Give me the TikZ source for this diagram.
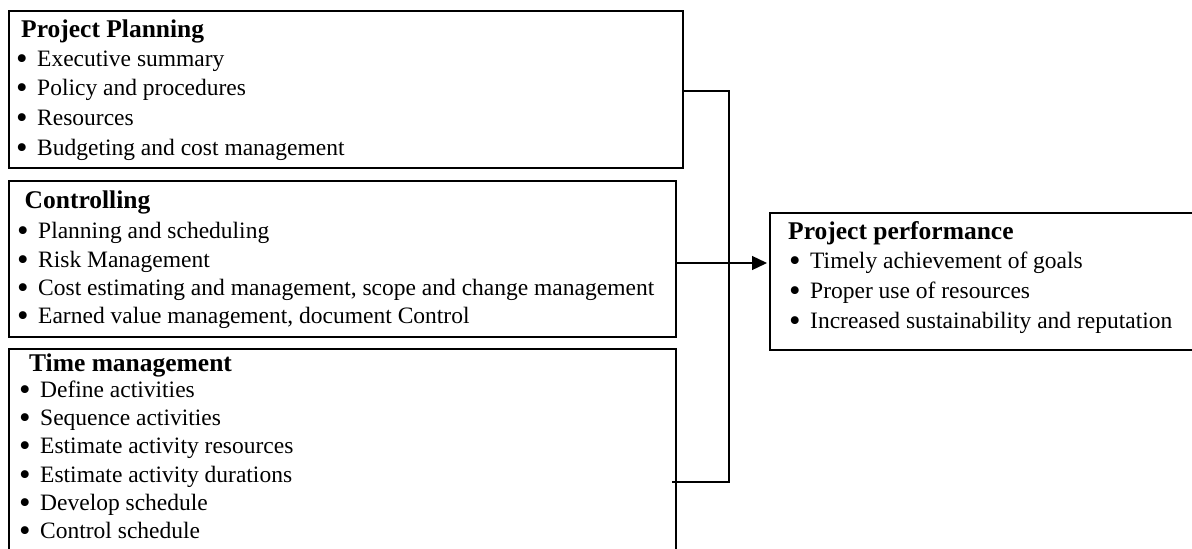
\documentclass[tikz,border=0pt]{standalone}
\usepackage{graphicx}
\usepackage{fontspec}
\setmainfont{Liberation Serif}
\usetikzlibrary{arrows.meta}
\newcommand{\bul}{\makebox[21pt][l]{\smash{\raisebox{-0.15em}{\scalebox{1.4}{\textbullet}}}}}
\begin{document}
\begin{tikzpicture}[x=1pt,y=-1pt,
  box/.style={draw=black, line width=1.3pt, inner sep=0pt, outer sep=0pt, anchor=north west, fill=none},
  ttl/.style={anchor=base west, inner sep=0pt, font=\fontsize{25.5}{28}\selectfont\bfseries},
  itm/.style={anchor=base west, inner sep=0pt, font=\fontsize{23.5}{27}\selectfont},
  conn/.style={line width=1.3pt, draw=black},
  arr/.style={conn, -{Triangle[length=15pt,width=14pt]}}]
\useasboundingbox (0,0) rectangle (1192,549);
\clip (0,0) rectangle (1192,549);
% boxes
\node[box, minimum width=674pt, minimum height=157pt] (b1) at (9,11) {};
\node[box, minimum width=667pt, minimum height=156pt] (b2) at (9,181) {};
\node[box, minimum width=667pt, minimum height=265pt] (b3) at (9,349) {};
\node[box, minimum width=470pt, minimum height=137pt] (b4) at (770,213) {};
% box 1 text
\node[ttl] (p0) at (21,37) {Project Planning};
\node[itm] (p1) at (16,66) {\bul Executive summary};
\node[itm] (p2) at (16,95) {\bul Policy and procedures};
\node[itm] (p3) at (16,125) {\bul Resources};
\node[itm] (p4) at (16,155) {\bul Budgeting and cost management};
% box 2 text
\node[ttl] (c0) at (24.5,208) {Controlling};
\node[itm] (c1) at (17,238) {\bul Planning and scheduling};
\node[itm] (c2) at (17,267) {\bul Risk Management};
\node[itm] (c3) at (17,295) {\bul Cost estimating and management,  scope and change management};
\node[itm] (c4) at (17,323) {\bul Earned value management,  document Control};
% box 3 text
\node[ttl] (m0) at (29,371) {Time management};
\node[itm] (m1) at (19,397) {\bul Define activities};
\node[itm] (m2) at (19,425) {\bul Sequence activities};
\node[itm] (m3) at (19,453) {\bul Estimate activity resources};
\node[itm] (m4) at (19,482) {\bul Estimate activity durations};
\node[itm] (m5) at (19,510) {\bul Develop schedule};
\node[itm] (m6) at (19,538) {\bul Control schedule};
% box 4 text
\node[ttl] (r0) at (788,239) {Project performance};
\node[itm] (r1) at (789,268) {\bul Timely achievement of goals};
\node[itm] (r2) at (789,298) {\bul Proper use of resources};
\node[itm] (r3) at (789,328) {\bul Increased sustainability and reputation};
% connectors
\coordinate (jt) at (729,91);
\coordinate (jm) at (729,263);
\coordinate (jb) at (729,482);
\draw[conn] (b1.east |- jt) -- (jt) -- (jb) -- ([xshift=-4pt]b3.east |- jb);
\draw[arr] (b2.east |- jm) -- ([xshift=-3pt]b4.west |- jm);
\end{tikzpicture}
\end{document}
